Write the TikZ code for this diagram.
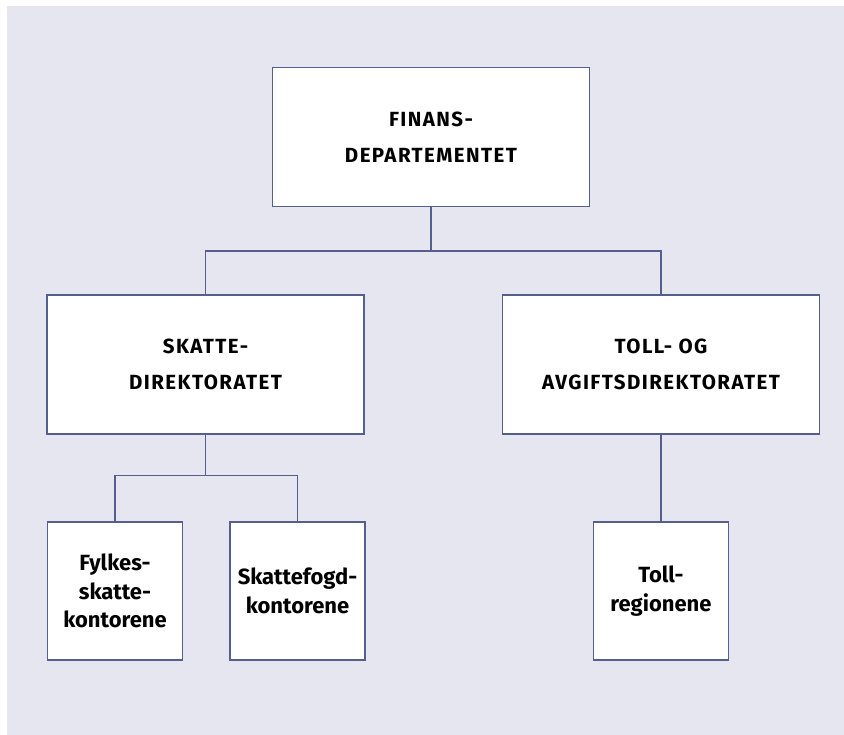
\documentclass[tikz,border=0pt]{standalone}
\usepackage{fontspec}
\setmainfont{Fira Sans}
\newfontfamily\capsfont{Fira Sans}[LetterSpace=7]
\usepackage{tikz}
\definecolor{bgcol}{HTML}{E6E6F0}
\definecolor{linecol}{HTML}{555E8C}
\tikzset{
    every node/.style={rectangle, draw=linecol, fill=white, line width=1.9pt,
    	align=center, inner sep=0pt}
}
\tikzset{
    bigbox/.style={minimum width=317pt, minimum height=139pt,
    	font=\capsfont\bfseries\fontsize{20.5}{36}\selectfont},
    smallbox/.style={minimum width=135pt, minimum height=138pt,
    	font=\bfseries\fontsize{22}{28.5}\selectfont},
    link/.style={draw=linecol, line width=1.9pt}
}

\begin{document}
\begin{tikzpicture}[x=1pt,y=-1pt]
	\fill[white] (0,0) rectangle (844,735);
	\fill[bgcol] (7,6) rectangle (844,735);
	\useasboundingbox (0,0) rectangle (844,735);

	\node (fin) [bigbox] at (431,137) {FINANS-\\DEPARTEMENTET};
	\node (skd) [bigbox] at (205.5,364.5) {SKATTE-\\DIREKTORATET};
	\node (tad) [bigbox] at (661,364.5) {TOLL- OG\\AVGIFTSDIREKTORATET};
	\node (fyl) [smallbox] at (115,591) {Fylkes-\\skatte-\\kontorene};
	\node (sfk) [smallbox] at (297.5,591) {Skattefogd-\\kontorene};
	\node (tre) [smallbox] at (661,591) {Toll-\\regionene};

	\coordinate (b1) at (431,251);
	\coordinate (b2) at (205.5,475.5);

	\draw[link] (fin) -- (b1);
	\draw[link] (skd.north) |- (b1) -| (tad.north);
	\draw[link] (skd) -- (b2);
	\draw[link] (fyl.north) |- (b2) -| (sfk.north);
	\draw[link] (tad) -- (tre);
\end{tikzpicture}
\end{document}
